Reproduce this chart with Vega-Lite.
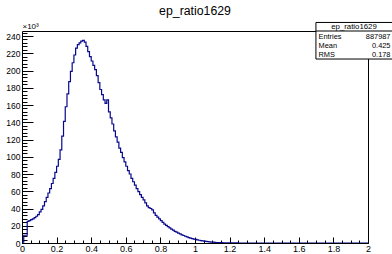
{
  "$schema": "https://vega.github.io/schema/vega-lite/v6.json",
  "width": 346,
  "height": 212,
  "autosize": {"type": "none"},
  "padding": {"left": 22, "top": 31, "right": 24, "bottom": 11},
  "background": "white",
  "title": {"text": "ep_ratio1629", "font": "Liberation Sans", "fontSize": 12.3, "fontWeight": "normal", "color": "#000", "anchor": "middle", "frame": "group", "offset": 4.5},
  "config": {"view": {"stroke": "#000", "strokeWidth": 1}},
  "datasets": {
    "h": [
      {"x":0.00,"n":1},{"x":0.01,"n":9},{"x":0.02,"n":9},{"x":0.03,"n":25},{"x":0.04,"n":26},{"x":0.05,"n":27},{"x":0.06,"n":28},{"x":0.07,"n":29.5},{"x":0.08,"n":31},{"x":0.09,"n":33},
      {"x":0.10,"n":36},{"x":0.11,"n":39},{"x":0.12,"n":43},{"x":0.13,"n":48},{"x":0.14,"n":53},{"x":0.15,"n":58},{"x":0.16,"n":63},{"x":0.17,"n":69},{"x":0.18,"n":75},{"x":0.19,"n":82},
      {"x":0.20,"n":89},{"x":0.21,"n":97},{"x":0.22,"n":108},{"x":0.23,"n":124},{"x":0.24,"n":141},{"x":0.25,"n":158},{"x":0.26,"n":173},{"x":0.27,"n":187},{"x":0.28,"n":199},{"x":0.29,"n":209},
      {"x":0.30,"n":218},{"x":0.31,"n":226},{"x":0.32,"n":230},{"x":0.33,"n":232},{"x":0.34,"n":234},{"x":0.35,"n":235},{"x":0.36,"n":233},{"x":0.37,"n":228},{"x":0.38,"n":222},{"x":0.39,"n":216},
      {"x":0.40,"n":211},{"x":0.41,"n":206},{"x":0.42,"n":201},{"x":0.43,"n":194},{"x":0.44,"n":186},{"x":0.45,"n":178},{"x":0.46,"n":172},{"x":0.47,"n":166},{"x":0.48,"n":162},{"x":0.49,"n":166},
      {"x":0.50,"n":152},{"x":0.51,"n":145},{"x":0.52,"n":138},{"x":0.53,"n":130},{"x":0.54,"n":123},{"x":0.55,"n":117},{"x":0.56,"n":110},{"x":0.57,"n":105},{"x":0.58,"n":99},{"x":0.59,"n":94},
      {"x":0.60,"n":89},{"x":0.61,"n":84},{"x":0.62,"n":80},{"x":0.63,"n":75},{"x":0.64,"n":71},{"x":0.65,"n":67},{"x":0.66,"n":63},{"x":0.67,"n":59.5},{"x":0.68,"n":56},{"x":0.69,"n":53},
      {"x":0.70,"n":50},{"x":0.71,"n":46.5},{"x":0.72,"n":43},{"x":0.73,"n":41},{"x":0.74,"n":40},{"x":0.75,"n":38.5},{"x":0.76,"n":35},{"x":0.77,"n":32},{"x":0.78,"n":30},{"x":0.79,"n":28},
      {"x":0.80,"n":26},{"x":0.81,"n":24},{"x":0.82,"n":22},{"x":0.83,"n":20.5},{"x":0.84,"n":19},{"x":0.85,"n":17.5},{"x":0.86,"n":16},{"x":0.87,"n":15},{"x":0.88,"n":13.5},{"x":0.89,"n":12.5},
      {"x":0.90,"n":11.5},{"x":0.91,"n":10.5},{"x":0.92,"n":9.5},{"x":0.93,"n":8.7},{"x":0.94,"n":7.8},{"x":0.95,"n":7},{"x":0.96,"n":6.3},{"x":0.97,"n":5.7},{"x":0.98,"n":5.1},{"x":0.99,"n":4.6},
      {"x":1.00,"n":4.1},{"x":1.01,"n":3.6},{"x":1.02,"n":3.2},{"x":1.03,"n":2.8},{"x":1.04,"n":2.4},{"x":1.05,"n":2.1},{"x":1.06,"n":1.8},{"x":1.07,"n":1.5},{"x":1.08,"n":1.3},{"x":1.09,"n":1.1},
      {"x":1.10,"n":0.9},{"x":1.11,"n":0.75},{"x":1.12,"n":0.6},{"x":1.13,"n":0.5},{"x":1.14,"n":0.4},{"x":1.15,"n":0.32},{"x":1.16,"n":0.25},{"x":1.17,"n":0.2},{"x":1.18,"n":0.15},{"x":1.19,"n":0.12},
      {"x":1.20,"n":0.09},{"x":1.21,"n":0.07},{"x":1.22,"n":0.05},{"x":1.23,"n":0.04},{"x":1.24,"n":0.03},{"x":1.25,"n":0.02},{"x":1.26,"n":0.015},{"x":1.27,"n":0.01},{"x":1.28,"n":0},{"x":1.29,"n":0},
      {"x":1.30,"n":0},{"x":1.31,"n":0},{"x":1.32,"n":0},{"x":1.33,"n":0},{"x":1.34,"n":0},{"x":1.35,"n":0},{"x":1.36,"n":0},{"x":1.37,"n":0},{"x":1.38,"n":0},{"x":1.39,"n":0},
      {"x":1.40,"n":0},{"x":1.41,"n":0},{"x":1.42,"n":0},{"x":1.43,"n":0},{"x":1.44,"n":0},{"x":1.45,"n":0},{"x":1.46,"n":0},{"x":1.47,"n":0},{"x":1.48,"n":0},{"x":1.49,"n":0},
      {"x":1.50,"n":0},{"x":1.51,"n":0},{"x":1.52,"n":0},{"x":1.53,"n":0},{"x":1.54,"n":0},{"x":1.55,"n":0},{"x":1.56,"n":0},{"x":1.57,"n":0},{"x":1.58,"n":0},{"x":1.59,"n":0},
      {"x":1.60,"n":0},{"x":1.61,"n":0},{"x":1.62,"n":0},{"x":1.63,"n":0},{"x":1.64,"n":0},{"x":1.65,"n":0},{"x":1.66,"n":0},{"x":1.67,"n":0},{"x":1.68,"n":0},{"x":1.69,"n":0},
      {"x":1.70,"n":0},{"x":1.71,"n":0},{"x":1.72,"n":0},{"x":1.73,"n":0},{"x":1.74,"n":0},{"x":1.75,"n":0},{"x":1.76,"n":0},{"x":1.77,"n":0},{"x":1.78,"n":0},{"x":1.79,"n":0},
      {"x":1.80,"n":0},{"x":1.81,"n":0},{"x":1.82,"n":0},{"x":1.83,"n":0},{"x":1.84,"n":0},{"x":1.85,"n":0},{"x":1.86,"n":0},{"x":1.87,"n":0},{"x":1.88,"n":0},{"x":1.89,"n":0},
      {"x":1.90,"n":0},{"x":1.91,"n":0},{"x":1.92,"n":0},{"x":1.93,"n":0},{"x":1.94,"n":0},{"x":1.95,"n":0},{"x":1.96,"n":0},{"x":1.97,"n":0},{"x":1.98,"n":0},{"x":1.99,"n":0},
      {"x":2.00,"n":0}
    ],
    "one": [{}]
  },
  "resolve": {"axis": {"x": "independent", "y": "independent"}},
  "layer": [
    {
      "data": {"name": "h"},
      "mark": {"type": "line", "opacity": 0},
      "encoding": {
        "x": {"field": "x", "type": "quantitative", "scale": {"domain": [0, 2], "nice": false, "zero": false},
          "axis": {"orient": "bottom", "values": [0,0.05,0.1,0.15,0.2,0.25,0.3,0.35,0.4,0.45,0.5,0.55,0.6,0.65,0.7,0.75,0.8,0.85,0.9,0.95,1,1.05,1.1,1.15,1.2,1.25,1.3,1.35,1.4,1.45,1.5,1.55,1.6,1.65,1.7,1.75,1.8,1.85,1.9,1.95,2],
            "labels": false, "domain": false, "grid": false, "title": null, "tickSize": -3, "tickColor": "#000", "tickWidth": 1}},
        "y": {"field": "n", "type": "quantitative", "scale": {"domain": [0, 245.8], "nice": false},
          "axis": {"orient": "left", "values": [0,4,8,12,16,20,24,28,32,36,40,44,48,52,56,60,64,68,72,76,80,84,88,92,96,100,104,108,112,116,120,124,128,132,136,140,144,148,152,156,160,164,168,172,176,180,184,188,192,196,200,204,208,212,216,220,224,228,232,236,240,244],
            "labels": false, "domain": false, "grid": false, "title": null, "tickSize": -5, "tickColor": "#000", "tickWidth": 1}}
      }
    },
    {
      "data": {"name": "h"},
      "mark": {"type": "line", "interpolate": "step-after", "color": "#08088f", "strokeWidth": 1.2, "clip": true},
      "encoding": {
        "x": {"field": "x", "type": "quantitative", "scale": {"domain": [0, 2], "nice": false, "zero": false},
          "axis": {"orient": "bottom", "values": [0,0.2,0.4,0.6,0.8,1,1.2,1.4,1.6,1.8,2], "format": "~g",
            "domain": false, "grid": false, "title": null, "tickSize": -6, "tickColor": "#000", "tickWidth": 1,
            "labelPadding": 7, "labelFont": "Liberation Sans", "labelFontSize": 9, "labelColor": "#000", "labelFlush": false, "labelOverlap": false}},
        "y": {"field": "n", "type": "quantitative", "scale": {"domain": [0, 245.8], "nice": false},
          "axis": {"orient": "left", "values": [0,20,40,60,80,100,120,140,160,180,200,220,240], "format": "d",
            "domain": false, "grid": false, "tickSize": -11, "tickColor": "#000", "tickWidth": 1,
            "labelPadding": 13, "labelFont": "Liberation Sans", "labelFontSize": 8.5, "labelColor": "#000", "labelFlush": false, "labelOverlap": false,
            "title": "×10³", "titleAngle": 0, "titleAlign": "left", "titleBaseline": "bottom", "titleX": 0, "titleY": -1,
            "titleFont": "Liberation Sans", "titleFontSize": 8, "titleFontWeight": "normal", "titleColor": "#000"}}
      }
    },
    {
      "data": {"name": "one"},
      "mark": {"type": "rect", "fill": "white", "stroke": "#000", "strokeWidth": 1},
      "encoding": {
        "x": {"datum": 1.699, "type": "quantitative", "axis": null},
        "x2": {"datum": 2.2},
        "y": {"datum": 255.7, "type": "quantitative", "axis": null},
        "y2": {"datum": 213.3}
      }
    },
    {
      "data": {"name": "one"},
      "mark": {"type": "rule", "stroke": "#000", "strokeWidth": 1},
      "encoding": {
        "x": {"datum": 1.699, "type": "quantitative", "axis": null},
        "x2": {"datum": 2.2},
        "y": {"datum": 245.8, "type": "quantitative", "axis": null}
      }
    },
    {
      "data": {"name": "one"},
      "mark": {"type": "text", "text": "ep_ratio1629", "font": "Liberation Sans", "fontSize": 7.8, "color": "#000", "align": "center", "baseline": "middle"},
      "encoding": {
        "x": {"datum": 1.919, "type": "quantitative", "axis": null},
        "y": {"datum": 251, "type": "quantitative", "axis": null}
      }
    },
    {
      "data": {"name": "one"},
      "mark": {"type": "text", "text": ["Entries", "Mean", "RMS"], "font": "Liberation Sans", "fontSize": 7.4, "lineHeight": 8.6, "color": "#000", "align": "left", "baseline": "middle"},
      "encoding": {
        "x": {"datum": 1.714, "type": "quantitative", "axis": null},
        "y": {"datum": 238.3, "type": "quantitative", "axis": null}
      }
    },
    {
      "data": {"name": "one"},
      "mark": {"type": "text", "text": ["887987", "0.425", "0.178"], "font": "Liberation Sans", "fontSize": 7.4, "lineHeight": 8.6, "color": "#000", "align": "right", "baseline": "middle"},
      "encoding": {
        "x": {"datum": 2.13, "type": "quantitative", "axis": null},
        "y": {"datum": 238.3, "type": "quantitative", "axis": null}
      }
    }
  ]
}
